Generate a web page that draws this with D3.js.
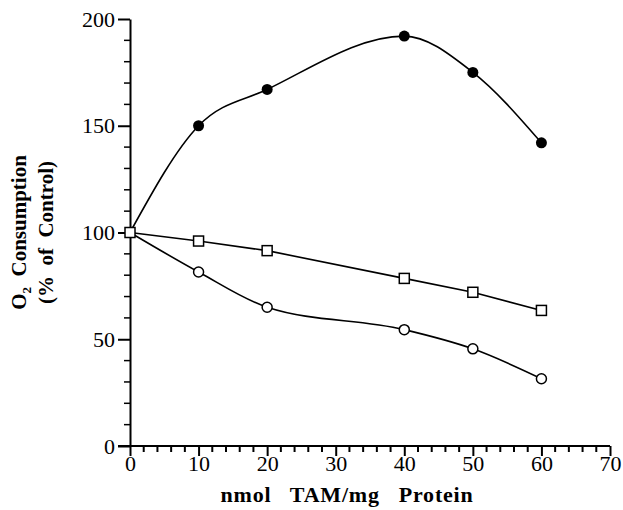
<!DOCTYPE html>
<html lang="en">
<head>
<meta charset="utf-8">
<title>O2 Consumption</title>
<script src="https://d3js.org/d3.v7.min.js"></script>
<style>
  body { margin: 0; background: #fff; }
  svg text { font-family: "Liberation Serif", "Times New Roman", Times, serif; fill: #000; white-space: pre; }
  svg .title { font-size: 21px; font-weight: bold; }
</style>
</head>
<body>
<div id="chart"></div>
<script>
// data
var doses = [0, 10, 20, 40, 50, 60];
var filledCircle = [100, 150, 167, 192, 175, 142];
var openSquare = [100, 96, 91.5, 78.5, 72, 63.5];
var openCircle = [100, 81.5, 65, 54.5, 45.5, 31.5];
var xTicks = [0, 10, 20, 30, 40, 50, 60, 70];
var yTicks = [0, 50, 100, 150, 200];

var W = 623, H = 510;
var margin = {top: 19, right: 13, bottom: 64, left: 130};
var serif = "'Liberation Serif', 'Times New Roman', Times, serif";

var x = d3.scaleLinear().domain([0, 70]).range([margin.left, W - margin.right]);
var y = d3.scaleLinear().domain([0, 200]).range([H - margin.bottom, margin.top]);

var svg = d3.select("#chart").append("svg")
  .attr("width", W).attr("height", H);

// minor ticks
var xMinor = d3.range(0, 71, 2).filter(function(d) { return d % 10 !== 0; });
var yMinor = d3.range(0, 201, 10).filter(function(d) { return d % 50 !== 0; });

svg.append("g").selectAll("line").data(xMinor).enter().append("line")
  .attr("x1", function(d) { return x(d); }).attr("x2", function(d) { return x(d); })
  .attr("y1", y(0)).attr("y2", y(0) + 6)
  .attr("stroke", "#000").attr("stroke-width", 2);

svg.append("g").selectAll("line").data(yMinor).enter().append("line")
  .attr("y1", function(d) { return y(d); }).attr("y2", function(d) { return y(d); })
  .attr("x1", x(0)).attr("x2", x(0) - 6)
  .attr("stroke", "#000").attr("stroke-width", 1.5);

// axes
var xAxis = svg.append("g")
  .attr("transform", "translate(0," + y(0) + ")")
  .call(d3.axisBottom(x).tickValues(xTicks).tickSize(10).tickPadding(-1).tickSizeOuter(0));

var yAxis = svg.append("g")
  .attr("transform", "translate(" + x(0) + ",0)")
  .call(d3.axisLeft(y).tickValues(yTicks).tickSize(12).tickPadding(3).tickSizeOuter(0));

[xAxis, yAxis].forEach(function(a) {
  a.attr("font-family", serif).attr("font-size", 22);
  a.select(".domain").attr("stroke", "#000").attr("stroke-width", 2);
  a.selectAll(".tick line").attr("stroke", "#000").attr("stroke-width", 2);
  a.selectAll(".tick text").style("font-family", serif).style("font-size", "22px");
});

// extend x axis line left to meet the y "0" tick
xAxis.select(".domain").attr("d", "M" + (x(0) - 12) + ",0H" + x(70));

// lines
function series(vals) {
  return doses.map(function(d, i) { return [d, vals[i]]; });
}
var lineGen = function(curve) {
  return d3.line().x(function(d) { return x(d[0]); }).y(function(d) { return y(d[1]); }).curve(curve);
};

svg.append("path").attr("d", lineGen(d3.curveMonotoneX)(series(filledCircle)))
  .attr("fill", "none").attr("stroke", "#000").attr("stroke-width", 1.6);
svg.append("path").attr("d", lineGen(d3.curveMonotoneX)(series(openCircle)))
  .attr("fill", "none").attr("stroke", "#000").attr("stroke-width", 1.6);
svg.append("path").attr("d", lineGen(d3.curveLinear)(series(openSquare)))
  .attr("fill", "none").attr("stroke", "#000").attr("stroke-width", 1.6);

// markers
svg.append("g").selectAll("circle").data(series(openCircle).slice(1)).enter().append("circle")
  .attr("cx", function(d) { return x(d[0]); }).attr("cy", function(d) { return y(d[1]); })
  .attr("r", 5).attr("fill", "#fff").attr("stroke", "#000").attr("stroke-width", 1.5);

svg.append("g").selectAll("circle").data(series(filledCircle).slice(1)).enter().append("circle")
  .attr("cx", function(d) { return x(d[0]); }).attr("cy", function(d) { return y(d[1]); })
  .attr("r", 5.5).attr("fill", "#000");

svg.append("g").selectAll("rect").data(series(openSquare)).enter().append("rect")
  .attr("x", function(d) { return x(d[0]) - 5; }).attr("y", function(d) { return y(d[1]) - 5; })
  .attr("width", 10).attr("height", 10)
  .attr("fill", "#fff").attr("stroke", "#000").attr("stroke-width", 1.5);

// titles
svg.append("text").attr("class", "title")
  .style("font-family", serif).style("font-size", "22px").style("letter-spacing", "0.8px")
  .attr("x", 347).attr("y", 502)
  .attr("text-anchor", "middle")
  .text("nmol   TAM/mg   Protein");

var yt = svg.append("text").attr("class", "title")
  .style("font-family", serif)
  .attr("transform", "translate(26," + y(100) + ") rotate(-90)")
  .attr("text-anchor", "middle");
yt.append("tspan").text("O");
yt.append("tspan").attr("font-size", "13px").attr("dy", 5).text("2");
yt.append("tspan").attr("dy", -5).text("  Consumption");

svg.append("text").attr("class", "title")
  .style("font-family", serif)
  .attr("transform", "translate(53," + y(100) + ") rotate(-90)")
  .attr("text-anchor", "middle")
  .text("(%  of  Control)");
</script>
</body>
</html>
